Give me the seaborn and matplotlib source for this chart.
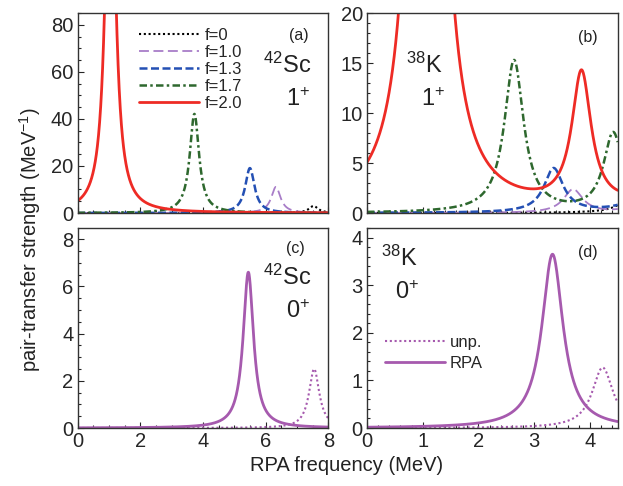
import numpy as np
import pandas as pd
import seaborn as sns
import matplotlib
matplotlib.use("Agg")
import matplotlib.pyplot as plt

# ---- data (peak centres in MeV, peak heights in MeV^-1) ----
f_labels = ["f=0", "f=1.0", "f=1.3", "f=1.7", "f=2.0"]

sc_1p_centers = [[7.53], [6.33], [5.50], [3.73], [1.05]]
sc_1p_heights = [[3.0], [11.1], [19.1], [42.1], [180.0]]

k_1p_centers = [[4.85], [3.70, 4.90], [3.35, 5.20], [2.64, 4.42], [1.07, 3.85, 5.30]]
k_1p_heights = [[3.0], [2.35, 1.16], [4.4, 8.3], [15.2, 7.9], [135.0, 13.4, 7.8]]

sc_0p_labels = ["unp.", "RPA"]
sc_0p_centers = [[7.55], [5.45]]
sc_0p_heights = [[2.5], [6.6]]

k_0p_centers = [[4.23], [3.33]]
k_0p_heights = [[1.27], [3.65]]

# lorentzian half widths used for the folding in each panel
half_widths = [0.18, 0.21, 0.20, 0.23]


def strength(x, centers, heights, g):
    """Sum of lorentzian peaks."""
    y = np.zeros_like(x)
    for c, h in zip(centers, heights):
        y += h * g**2 / ((x - c)**2 + g**2)
    return y


sns.set_style("ticks")
plt.rcParams["font.family"] = ["Liberation Sans", "DejaVu Sans"]
plt.rcParams["mathtext.fontset"] = "custom"
plt.rcParams["mathtext.rm"] = "Liberation Sans"
plt.rcParams["mathtext.it"] = "Liberation Sans:italic"

fig = plt.figure(figsize=(6.23, 4.86), dpi=100)
ax_a = fig.add_axes([0.1244, 0.5617, 0.4025, 0.4115])
ax_b = fig.add_axes([0.589, 0.5617, 0.4025, 0.4115])
ax_c = fig.add_axes([0.1244, 0.1193, 0.4025, 0.4115])
ax_d = fig.add_axes([0.589, 0.1193, 0.4025, 0.4115])

f_colors = ["black", "#a87dc8", "#2450b4", "#2e682e", "#ee2b25"]
f_styles = [(0, (1, 1.3)), (0, (5.5, 2.5)), (0, (3.2, 1.4)), (0, (3, 1.3, 1, 1.3)), "-"]
f_widths = [1.5, 1.3, 1.8, 1.8, 2.0]
purple = "#a65aae"

x_ab = np.linspace(0, 8, 1601)
x_k = np.linspace(0, 4.5, 1601)

for i, lab in enumerate(f_labels):
    df = pd.DataFrame({"E": x_ab, "S": strength(x_ab, sc_1p_centers[i], sc_1p_heights[i], half_widths[0])})
    sns.lineplot(data=df, x="E", y="S", ax=ax_a, color=f_colors[i], linestyle=f_styles[i],
                 lw=f_widths[i], label=lab)
    df = pd.DataFrame({"E": x_k, "S": strength(x_k, k_1p_centers[i], k_1p_heights[i], half_widths[1])})
    sns.lineplot(data=df, x="E", y="S", ax=ax_b, color=f_colors[i], linestyle=f_styles[i],
                 lw=f_widths[i], legend=False)

for i, lab in enumerate(sc_0p_labels):
    style = (0, (1, 1.3)) if lab == "unp." else "-"
    lw = 1.5 if lab == "unp." else 2.0
    df = pd.DataFrame({"E": x_ab, "S": strength(x_ab, sc_0p_centers[i], sc_0p_heights[i], half_widths[2])})
    sns.lineplot(data=df, x="E", y="S", ax=ax_c, color=purple, linestyle=style, lw=lw, legend=False)
    df = pd.DataFrame({"E": x_k, "S": strength(x_k, k_0p_centers[i], k_0p_heights[i], half_widths[3])})
    sns.lineplot(data=df, x="E", y="S", ax=ax_d, color=purple, linestyle=style, lw=lw, label=lab)

# axes limits and ticks
limits = [(ax_a, 8, 85, 2, 0.5, 20, 5),
          (ax_b, 4.5, 20, 1, 0.2, 5, 1),
          (ax_c, 8, 8.47, 2, 0.5, 2, 0.5),
          (ax_d, 4.5, 4.2, 1, 0.2, 1, 0.2)]
for ax, xmax, ymax, xmaj, xmin_, ymaj, ymin_ in limits:
    ax.set_xlim(0, xmax)
    ax.set_ylim(0, ymax)
    ax.xaxis.set_major_locator(plt.MultipleLocator(xmaj))
    ax.xaxis.set_minor_locator(plt.MultipleLocator(xmin_))
    ax.yaxis.set_major_locator(plt.MultipleLocator(ymaj))
    ax.yaxis.set_minor_locator(plt.MultipleLocator(ymin_))
    ax.tick_params(which="both", direction="in", labelsize=14.5, pad=3, width=0.8)
    ax.tick_params(which="major", length=4)
    ax.tick_params(which="minor", length=2.5)
    ax.set_xlabel("")
    ax.set_ylabel("")
    for sp in ax.spines.values():
        sp.set_visible(True)
        sp.set_linewidth(1.0)
        sp.set_color("#333333")

ax_a.tick_params(labelbottom=False)
ax_b.tick_params(labelbottom=False)

# legends
ax_a.legend(loc="upper left", bbox_to_anchor=(0.245, 0.925), frameon=False, fontsize=12,
            handlelength=3.6, handletextpad=0.35, labelspacing=0.12, borderpad=0, borderaxespad=0)
ax_d.legend(loc="upper left", bbox_to_anchor=(0.07, 0.465), frameon=False, fontsize=12,
            handlelength=3.6, handletextpad=0.3, labelspacing=0.35, borderpad=0, borderaxespad=0)

# panel annotations
notes = [(ax_a, "(a)", "$^{42}$Sc", "1$^{+}$", (0.884, 0.89), (0.836, 0.74), (0.878, 0.565)),
         (ax_b, "(b)", "$^{38}$K", "1$^{+}$", (0.88, 0.88), (0.23, 0.74), (0.265, 0.565)),
         (ax_c, "(c)", "$^{42}$Sc", "0$^{+}$", (0.868, 0.9), (0.836, 0.755), (0.878, 0.58)),
         (ax_d, "(d)", "$^{38}$K", "0$^{+}$", (0.88, 0.88), (0.13, 0.85), (0.16, 0.675))]
for ax, tag, nuc, jp, p1, p2, p3 in notes:
    ax.text(*p1, tag, transform=ax.transAxes, ha="center", va="center", fontsize=11.5, color="#222222")
    ax.text(*p2, nuc, transform=ax.transAxes, ha="center", va="center", fontsize=17, color="#222222")
    ax.text(*p3, jp, transform=ax.transAxes, ha="center", va="center", fontsize=17, color="#222222")

fig.text(0.048, 0.506, "pair-transfer strength (MeV$^{-1}$)", rotation=90,
         ha="center", va="center", fontsize=14.5, color="#222222")
fig.text(0.557, 0.043, "RPA frequency (MeV)", ha="center", va="center", fontsize=14.5, color="#222222")

fig.savefig("out.png", dpi=100)
